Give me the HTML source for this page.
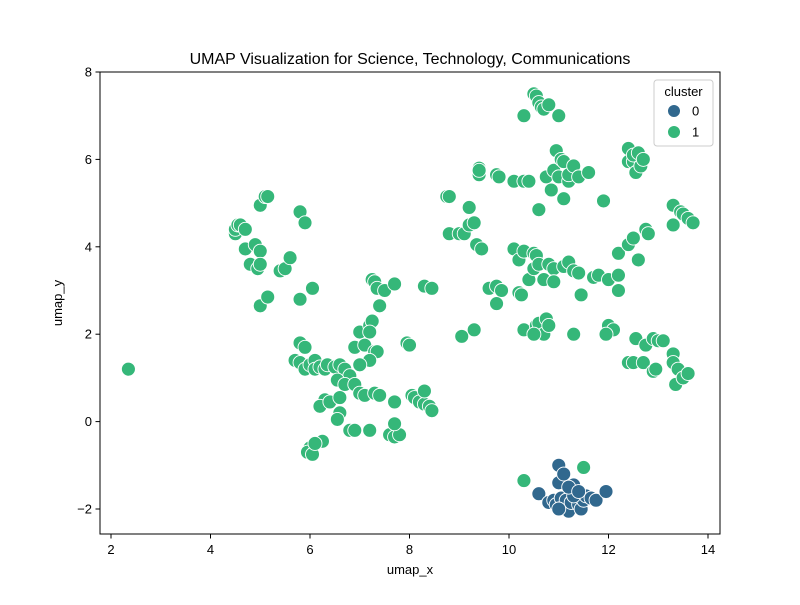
<!DOCTYPE html>
<html><head><meta charset="utf-8"><style>
body{margin:0;background:#fff;}
svg{font-family:"Liberation Sans","DejaVu Sans",sans-serif;}
</style></head><body>
<svg id="chart" width="800" height="600" xmlns="http://www.w3.org/2000/svg">
<rect width="800" height="600" fill="#fff"/>
<text x="410" y="64" font-size="16" text-anchor="middle">UMAP Visualization for Science, Technology, Communications</text>
<g id="marks"></g>
<rect x="100" y="72" width="620" height="462" fill="none" stroke="#000" stroke-width="1"/>
<g id="axes"></g>
<text x="410" y="574" font-size="13" text-anchor="middle">umap_x</text>
<text x="62" y="303" font-size="13" text-anchor="middle" transform="rotate(-90 62 303)">umap_y</text>
<g>
<rect x="654" y="80" width="59" height="66" rx="3" fill="#fff" fill-opacity="0.8" stroke="#ccc"/>
<text x="683.5" y="96" font-size="13" text-anchor="middle">cluster</text>
<circle cx="674" cy="111" r="6.5" fill="#31688e" stroke="#fff"/>
<text x="692" y="115.5" font-size="13">0</text>
<circle cx="674" cy="132" r="6.5" fill="#35b779" stroke="#fff"/>
<text x="692" y="136.5" font-size="13">1</text>
</g>
</svg>
<script>
const xTicks=[2,4,6,8,10,12,14];
const yTicks=[-2,0,2,4,6,8];
const c1x=[2.35,4.5,4.5,4.55,4.6,4.7,4.7,4.8,4.95,4.9,5.0,5.0,5.0,5.1,5.15,5.0,5.15,5.4,5.5,5.6,5.8,5.9,5.8,6.05,
5.7,5.8,5.8,5.9,5.9,6.0,6.1,6.1,6.2,6.3,6.35,6.5,6.6,6.7,6.8,6.55,6.7,6.9,6.3,6.2,6.4,6.6,6.6,6.55,6.8,6.9,6.25,6.0,5.95,6.05,6.1,
6.9,7.0,7.1,7.2,7.25,7.2,7.3,7.35,7.2,7.0,7.0,7.1,7.3,7.4,7.25,7.3,7.35,7.4,7.5,7.7,7.2,7.6,7.7,7.8,7.7,7.7,7.95,8.0,8.05,8.1,8.2,8.3,8.4,8.45,8.3,8.3,8.45,
8.75,8.8,8.8,9.0,9.1,9.2,9.2,9.3,9.35,9.45,9.05,9.3,9.4,9.4,9.4,
9.75,9.8,10.1,10.3,10.4,9.6,9.75,9.85,9.75,10.1,10.2,10.3,10.2,10.25,10.3,10.4,10.5,10.55,10.5,10.6,10.3,10.5,10.55,10.6,10.65,10.7,10.8,10.55,10.6,10.7,10.5,10.75,10.8,10.6,10.7,10.8,10.9,10.9,10.75,10.85,10.9,10.95,11.0,11.05,11.1,11.2,11.2,11.1,11.3,11.4,11.6,11.0,11.1,11.2,11.3,11.4,11.45,11.3,10.3,
11.7,11.8,11.9,12.0,12.1,12.0,12.2,12.2,12.2,11.95,12.4,12.5,12.6,12.75,12.8,12.4,12.5,12.4,12.5,12.6,12.55,12.65,12.7,12.4,12.5,12.55,12.7,12.75,12.9,12.9,13.0,13.1,12.95,
13.3,13.3,13.45,13.5,13.6,13.7,13.3,13.3,13.4,13.35,13.5,13.6,11.5];
const c1y=[1.2,4.3,4.4,4.5,4.5,4.4,3.95,3.6,3.5,4.05,3.9,3.6,4.95,5.15,5.15,2.65,2.85,3.45,3.5,3.75,4.8,4.55,2.8,3.05,
1.4,1.35,1.8,1.7,1.2,1.3,1.4,1.2,1.25,1.2,1.3,1.25,1.3,1.2,1.05,0.95,0.85,0.85,0.5,0.35,0.45,0.55,0.2,0.05,-0.2,-0.2,-0.45,-0.6,-0.7,-0.75,-0.5,
1.7,2.05,1.75,2.2,2.3,2.05,1.6,1.6,1.4,1.3,0.65,0.6,0.65,0.6,3.25,3.2,3.05,2.65,3.0,3.15,-0.2,-0.3,-0.35,-0.3,-0.05,0.45,1.8,1.75,0.6,0.55,0.45,0.4,0.35,0.25,0.7,3.1,3.05,
5.15,5.15,4.3,4.3,4.3,4.5,4.9,4.55,4.05,3.95,1.95,2.1,5.65,5.8,5.75,
5.65,5.6,5.5,5.5,5.5,3.05,3.1,3.0,2.7,3.95,3.7,3.9,2.95,2.9,2.1,3.25,3.85,3.8,3.5,4.85,7.0,7.5,7.45,7.3,7.2,7.15,7.25,2.2,2.25,2.0,2.0,2.35,2.2,3.6,3.25,3.6,3.5,3.2,5.6,5.3,5.75,6.2,5.6,6.0,5.95,5.5,5.65,5.1,5.85,5.6,5.7,7.0,3.55,3.65,3.45,3.4,2.9,2.0,-1.35,
3.3,3.35,5.05,2.2,2.1,3.25,3.85,3.35,3.0,2.0,4.05,4.2,3.7,4.4,4.3,5.95,5.95,6.25,6.1,6.15,5.7,5.85,6.0,1.35,1.35,1.9,1.35,1.75,1.15,1.9,1.85,1.85,1.2,
4.95,4.5,4.8,4.75,4.65,4.55,1.55,1.35,1.2,0.85,1.0,1.1,-1.05];
const c0x=[10.6,10.8,10.9,10.95,11.0,11.0,11.05,11.1,11.15,11.2,11.25,11.3,11.35,11.4,11.45,11.5,11.55,11.65,11.75,11.95,11.1,11.0,11.3,11.2,11.4];
const c0y=[-1.65,-1.85,-1.8,-1.9,-1.0,-1.4,-1.75,-1.95,-1.8,-2.05,-1.85,-1.45,-1.65,-1.9,-2.0,-1.8,-1.7,-1.75,-1.8,-1.6,-1.2,-2.0,-1.7,-1.5,-1.6];
const NS="http://www.w3.org/2000/svg";
function sx(v){return 111+(v-2)*49.75;}
function sy(v){return 72+(8-v)*43.7;}
const axes=document.getElementById('axes');
xTicks.forEach(t=>{
  const l=document.createElementNS(NS,'line');
  
  
  l.setAttribute('x1',sx(t));l.setAttribute('x2',sx(t));l.setAttribute('y1',534);l.setAttribute('y2',538.5);l.setAttribute('stroke','#000');
  axes.appendChild(l);
  const tx=document.createElementNS(NS,'text');
  
  
  tx.setAttribute('x',sx(t));tx.setAttribute('y',554);tx.setAttribute('font-size','13');tx.setAttribute('text-anchor','middle');
  tx.textContent=t;axes.appendChild(tx);
});
yTicks.forEach(t=>{
  const l=document.createElementNS(NS,'line');
  
  
  l.setAttribute('x1',95.5);l.setAttribute('x2',100);l.setAttribute('y1',sy(t));l.setAttribute('y2',sy(t));l.setAttribute('stroke','#000');
  axes.appendChild(l);
  const tx=document.createElementNS(NS,'text');
  
  
  tx.setAttribute('x',92);tx.setAttribute('y',sy(t)+4.5);tx.setAttribute('font-size','13');tx.setAttribute('text-anchor','end');
  tx.textContent=t<0?'\u2212'+(-t):t;axes.appendChild(tx);
});
const marks=document.getElementById('marks');
function draw(xs,ys,col,name){
  xs.forEach((x,i)=>{
    const c=document.createElementNS(NS,'circle');
    
    
    c.setAttribute('cx',sx(x));c.setAttribute('cy',sy(ys[i]));c.setAttribute('r',7);
    c.setAttribute('fill',col);c.setAttribute('stroke','#fff');c.setAttribute('stroke-width','0.9');
    marks.appendChild(c);
  });
}
draw(c1x,c1y,'#35b779','point-cluster-1');
draw(c0x,c0y,'#31688e','point-cluster-0');
</script>
</body></html>
